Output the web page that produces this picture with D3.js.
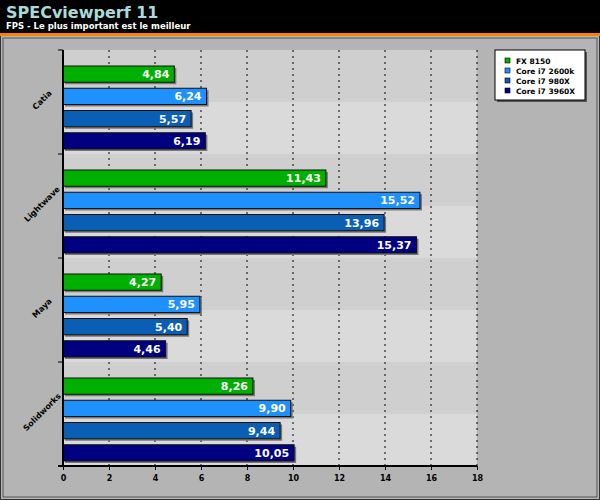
<!DOCTYPE html>
<html><head><meta charset="utf-8">
<script src="https://cdn.jsdelivr.net/npm/d3@7"></script>
<style>body{margin:0;background:#b4b4b4}svg{display:block;font-family:"DejaVu Sans",Verdana,sans-serif}</style>
</head><body>
<svg id="chart" width="600" height="500"></svg>
<script>
// Data
var apps = ["Catia", "Lightwave", "Maya", "Solidworks"];
var cpus = ["FX 8150", "Core i7 2600k", "Core i7 980X", "Core i7 3960X"];
var colors = ["#00b000", "#1e90ff", "#0a5eb4", "#000080"];
var fx8150 = [4.84, 11.43, 4.27, 8.26];
var i2600k = [6.24, 15.52, 5.95, 9.90];
var i980x = [5.57, 13.96, 5.40, 9.44];
var i3960x = [6.19, 15.37, 4.46, 10.05];
var ticks = [0, 2, 4, 6, 8, 10, 12, 14, 16, 18];

var series = [fx8150, i2600k, i980x, i3960x];
var svg = d3.select("#chart");

// background & header
svg.append("rect").attr("x", 0.5).attr("y", 0.5).attr("width", 599).attr("height", 499)
  .attr("fill", "#b4b4b4").attr("stroke", "#333");
svg.append("rect").attr("width", 600).attr("height", 33).attr("fill", "#000");
svg.append("rect").attr("y", 33).attr("width", 600).attr("height", 3).attr("fill", "#ff7f00");
svg.append("text").attr("x", 6).attr("y", 18).attr("fill", "#a8dcdc")
  .attr("font-size", 16).attr("font-weight", "bold").text("SPECviewperf 11");
svg.append("text").attr("x", 6).attr("y", 29).attr("fill", "#fff")
  .attr("font-size", 8.5).attr("font-weight", "bold").text("FPS - Le plus important est le meilleur");
svg.append("rect").attr("x", 3).attr("y", 38).attr("width", 594).attr("height", 459)
  .attr("fill", "none").attr("stroke", "#555");

var x = d3.scaleLinear().domain([0, 18]).range([63, 477]);
var y0 = d3.scaleBand().domain(apps).range([50, 466]);
var y1 = d3.scaleBand().domain(cpus).range([16, 99]).paddingInner(0.27);

// plot bands
apps.forEach(function (a, i) {
  [0, 1].forEach(function (h) {
    svg.append("rect").attr("x", x(0)).attr("y", y0(a) + h * y0.bandwidth() / 2)
      .attr("width", x(18) - x(0)).attr("height", y0.bandwidth() / 2)
      .attr("fill", (i * 2 + h) % 2 ? "#dadada" : "#cfcfcf");
  });
});

// grid
svg.append("g").selectAll("line").data(ticks.slice(1)).join("line")
  .attr("x1", d => x(d)).attr("x2", d => x(d)).attr("y1", 50).attr("y2", 466)
  .attr("stroke", "#000").attr("stroke-dasharray", "2,4");

// bars
apps.forEach(function (a, i) {
  var g = svg.append("g").attr("transform", "translate(0," + y0(a) + ")");
  cpus.forEach(function (c, k) {
    var v = series[k][i];
    g.append("rect").attr("x", x(0) + 2).attr("y", y1(c) + 2)
      .attr("width", x(v) - x(0)).attr("height", y1.bandwidth()).attr("fill", "#777");
    g.append("rect").attr("x", x(0)).attr("y", y1(c))
      .attr("width", x(v) - x(0)).attr("height", y1.bandwidth())
      .attr("fill", colors[k]).attr("stroke", "#111").attr("stroke-width", 1);
    g.append("text").attr("x", x(v) - 5).attr("y", y1(c) + y1.bandwidth() / 2 + 4)
      .attr("text-anchor", "end").attr("fill", "#fff").attr("font-size", 11).attr("font-weight", "bold")
      .text(v.toFixed(2).replace(".", ","));
  });
  svg.append("text").attr("transform", "translate(44," + (y0(a) + y0.bandwidth() / 2) + ") rotate(-45)")
    .attr("text-anchor", "middle").attr("font-size", 8).attr("font-weight", "bold").text(a);
  svg.append("line").attr("x1", 58).attr("x2", 63).attr("y1", y0(a)).attr("y2", y0(a)).attr("stroke", "#000");
});

// axes
var xa = svg.append("g").attr("transform", "translate(0,466)")
  .call(d3.axisBottom(x).tickValues(ticks).tickSize(4));
xa.select(".domain").attr("stroke-width", 2).attr("d", "M58,0H477");
xa.selectAll("text").attr("font-size", 8).attr("font-weight", "bold").attr("font-family", "DejaVu Sans").attr("dy", "1em");
svg.append("line").attr("x1", x(0)).attr("x2", x(0)).attr("y1", 50).attr("y2", 467)
  .attr("stroke", "#000").attr("stroke-width", 2);

// legend
var lg = svg.append("g").attr("transform", "translate(495,50)");
lg.append("rect").attr("x", 2).attr("y", 2).attr("width", 90).attr("height", 50).attr("fill", "#555");
lg.append("rect").attr("width", 90).attr("height", 50).attr("fill", "#fff").attr("stroke", "#000");
cpus.forEach(function (c, k) {
  lg.append("rect").attr("x", 10).attr("y", 8 + k * 10).attr("width", 5).attr("height", 5)
    .attr("fill", colors[k]).attr("stroke", "#000").attr("stroke-width", 0.6);
  lg.append("text").attr("x", 21).attr("y", 14 + k * 10).attr("font-size", 7.5).attr("font-weight", "bold").text(c);
});
</script>
</body></html>
